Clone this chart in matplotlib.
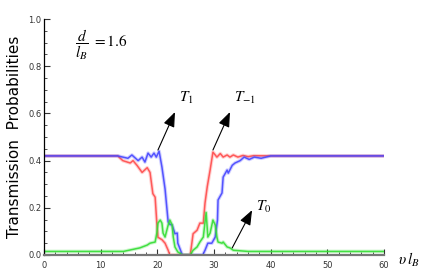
import numpy as np
import matplotlib
matplotlib.use("Agg")
import matplotlib.pyplot as plt
from matplotlib.ticker import MultipleLocator

plt.rcParams["mathtext.fontset"] = "stix"
plt.rcParams["font.family"] = ["DejaVu Sans"]

# T_1 (blue)
x_t1 = [0, 13, 13.9, 14.8, 15.5, 16.6, 17.3, 17.8, 18.35, 18.9, 19.4, 19.8, 20.3,
        20.8, 21.35, 21.9, 22.2, 22.6, 23.1, 23.5, 23.6, 24.4, 28.0, 28.4, 28.9,
        29.6, 30.2, 30.6, 30.7, 31.4, 31.6, 32.3, 32.5, 33.2, 33.7, 34.6, 35.3,
        36.2, 37.1, 38.3, 40, 60]
y_t1 = [0.42, 0.42, 0.415, 0.41, 0.424, 0.40, 0.415, 0.394, 0.432, 0.415, 0.432,
        0.415, 0.44, 0.373, 0.28, 0.14, 0.13, 0.127, 0.09, 0.093, 0.05, 0.0, 0.0,
        0.02, 0.05, 0.05, 0.076, 0.148, 0.233, 0.263, 0.33, 0.36, 0.347, 0.38,
        0.39, 0.40, 0.415, 0.405, 0.415, 0.41, 0.42, 0.42]

# T_-1 (red)
x_tm1 = [0, 13, 13.9, 15.2, 15.7, 16.4, 17.3, 18.2, 18.7, 19.2, 19.6, 19.9, 20.1,
         20.8, 21.35, 21.9, 22.2, 25.8, 26.3, 27.0, 27.5, 28.1, 28.4, 28.8, 29.3,
         29.8, 30.5, 31.1, 31.6, 32.3, 32.8, 33.4, 34.2, 35.1, 36, 37, 40, 60]
y_tm1 = [0.42, 0.42, 0.40, 0.39, 0.40, 0.38, 0.35, 0.37, 0.35, 0.26, 0.245, 0.135,
         0.075, 0.065, 0.05, 0.02, 0.0, 0.0, 0.09, 0.105, 0.135, 0.135, 0.22, 0.29,
         0.36, 0.436, 0.415, 0.43, 0.415, 0.424, 0.415, 0.424, 0.415, 0.422, 0.417,
         0.421, 0.42, 0.42]

# T_0 (green)
x_t0 = [0, 14, 16.9, 18.2, 18.7, 19.6, 19.9, 20.1, 20.5, 20.8, 21.0, 21.35, 21.9,
        22.2, 22.6, 22.8, 23.1, 23.6, 24.4, 25.8, 26.3, 27.0, 27.5, 28.1, 28.6,
        28.9, 29.3, 29.8, 30.2, 30.5, 30.7, 31.4, 31.6, 32.3, 32.8, 33.4, 36, 60]
y_t0 = [0.015, 0.015, 0.03, 0.042, 0.05, 0.055, 0.093, 0.135, 0.148, 0.135, 0.093,
        0.076, 0.127, 0.148, 0.127, 0.076, 0.034, 0.013, 0.0, 0.0, 0.02, 0.034,
        0.055, 0.076, 0.18, 0.076, 0.093, 0.148, 0.127, 0.076, 0.055, 0.05, 0.055,
        0.034, 0.03, 0.02, 0.015, 0.015]

fig = plt.figure(figsize=(4.36, 2.73), dpi=100)
ax = fig.add_axes([0.101, 0.066, 0.780, 0.864])

series = [(x_tm1, y_tm1, "#ff4c4c"), (x_t1, y_t1, "#4646ff"), (x_t0, y_t0, "#33dd33")]
for xs, ys, c in series:
    ax.plot(xs, ys, color=c, lw=2.6, alpha=0.25, solid_joinstyle="round")
    ax.plot(xs, ys, color=c, lw=1.1, alpha=0.9, solid_joinstyle="round")

ax.set_xlim(0, 60)
ax.set_ylim(0, 1.0)
ax.xaxis.set_major_locator(MultipleLocator(10))
ax.xaxis.set_minor_locator(MultipleLocator(2))
ax.yaxis.set_major_locator(MultipleLocator(0.2))
ax.yaxis.set_minor_locator(MultipleLocator(0.05))
ax.yaxis.set_major_formatter(plt.FuncFormatter(lambda v, p: f"{v:.1f}"))
ax.tick_params(which="both", direction="in", labelsize=6, colors="#333333",
               pad=2)
ax.tick_params(axis="x", pad=4)
ax.tick_params(which="major", length=4, width=0.8)
ax.tick_params(which="minor", length=2, width=0.6)
for s in ["top", "right"]:
    ax.spines[s].set_visible(False)
ax.spines["left"].set_color("black")
ax.spines["left"].set_linewidth(0.9)
ax.spines["bottom"].set_color("#777777")
ax.spines["bottom"].set_linewidth(1.6)

ax.set_ylabel("Transmission  Probabilities", fontsize=11, labelpad=4)
ax.text(62.5, -0.02, r"$\upsilon\,l_B$", fontsize=11, ha="left", va="center",
        clip_on=False)

ax.text(5.5, 0.89, r"$\dfrac{d}{l_B}\ \mathrm{=1.6}$", fontsize=11, ha="left",
        va="center")

arrow = dict(arrowstyle="-|>,head_length=0.9,head_width=0.35", color="black",
             lw=0.8, shrinkA=0, shrinkB=0)
ax.annotate("", xy=(23.1, 0.606), xytext=(20.1, 0.445), arrowprops=arrow)
ax.annotate("", xy=(32.8, 0.606), xytext=(29.8, 0.445), arrowprops=arrow)
ax.annotate("", xy=(36.7, 0.19), xytext=(33.2, 0.03), arrowprops=arrow)
ax.text(23.8, 0.63, r"$T_1$", fontsize=11, ha="left", va="bottom")
ax.text(33.6, 0.63, r"$T_{-1}$", fontsize=11, ha="left", va="bottom")
ax.text(37.4, 0.17, r"$T_0$", fontsize=11, ha="left", va="bottom")

fig.savefig("out.png", dpi=100)
